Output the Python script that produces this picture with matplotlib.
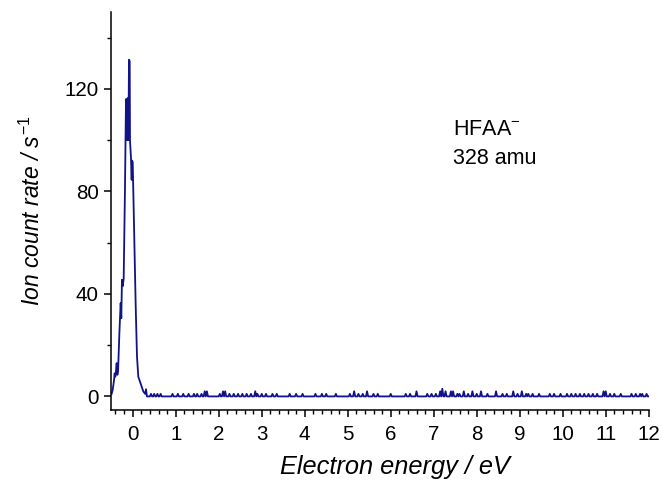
import numpy as np
import matplotlib
matplotlib.use("Agg")
import matplotlib.pyplot as plt
from matplotlib.ticker import MultipleLocator

plt.rcParams["font.family"] = ["Liberation Sans", "DejaVu Sans"]
plt.rcParams["mathtext.fontset"] = "custom"
plt.rcParams["mathtext.rm"] = "Liberation Sans"
plt.rcParams["mathtext.it"] = "Liberation Sans:italic"

# Resonance region (electron energy in eV, ion count rate in 1/s)
peak_energy = [-0.49, -0.466, -0.435, -0.42, -0.405, -0.39, -0.373, -0.357, -0.34,
               -0.31, -0.28, -0.265, -0.25, -0.233, -0.21, -0.18, -0.156, -0.14,
               -0.132, -0.117, -0.10, -0.086, -0.07, -0.063, -0.04, -0.024, -0.016,
               0.0, 0.04, 0.07, 0.10, 0.13, 0.17, 0.21, 0.247, 0.29, 0.31, 0.33]
peak_rate = [1.0, 2.5, 6.2, 9.0, 7.7, 9.7, 13.0, 8.4, 10.0,
             24.7, 36.4, 30.5, 45.5, 43.0, 45.8, 80.6, 116.0, 115.0,
             100.0, 116.4, 100.0, 131.4, 130.8, 100.0, 93.0, 84.5, 92.0,
             91.5, 58.5, 35.0, 15.5, 7.7, 5.8, 3.8, 1.9, 1.0, 2.8, 0.0]

# Background above the resonance: zero counts except for isolated events
bg_start, bg_stop, bg_step = 0.35, 12.0, 0.025
event_energy = [0.42, 0.50, 0.57, 0.65, 0.92, 1.05, 1.17, 1.30, 1.42, 1.50, 1.60,
                1.67, 1.72, 2.02, 2.10, 2.15, 2.25, 2.35, 2.45, 2.55, 2.65, 2.75,
                2.85, 2.90, 3.00, 3.10, 3.25, 3.35, 3.65, 3.80, 3.95, 4.25, 4.40,
                4.50, 4.72, 5.05, 5.15, 5.25, 5.35, 5.45, 5.60, 5.70, 6.00, 6.35,
                6.45, 6.60, 6.85, 6.95, 7.05, 7.15, 7.20, 7.27, 7.40, 7.45, 7.55,
                7.60, 7.70, 7.80, 7.90, 8.00, 8.10, 8.25, 8.45, 8.60, 8.70, 8.85,
                8.95, 9.05, 9.15, 9.20, 9.30, 9.45, 9.70, 9.80, 9.95, 10.10, 10.20,
                10.30, 10.40, 10.50, 10.60, 10.70, 10.80, 10.95, 11.00, 11.10,
                11.20, 11.35, 11.60, 11.70, 11.80, 11.85, 11.95]
event_rate = [1, 1, 1, 1, 1, 1, 1, 1, 1, 1, 1,
              2, 2, 1, 2, 2, 1, 1, 1, 1, 1, 1,
              2, 1, 1, 1, 1, 1, 1, 1, 1, 1, 1,
              1, 1, 1, 2, 1, 1, 2, 1, 1, 1, 1,
              1, 2, 1, 1, 1, 2, 3, 2, 2, 2, 1,
              1, 2, 1, 2, 1, 2, 1, 2, 1, 1, 2,
              1, 2, 1, 1, 1, 1, 1, 1, 1, 1, 1,
              1, 1, 1, 1, 1, 1, 2, 2, 1,
              1, 1, 1, 1, 1, 1, 1]

bg_energy = np.round(np.arange(bg_start, bg_stop + bg_step / 2, bg_step), 3)
bg_rate = np.zeros_like(bg_energy)
for e, r in zip(event_energy, event_rate):
    bg_rate[int(round((e - bg_start) / bg_step))] = r

energy = np.concatenate([peak_energy, bg_energy])
rate = np.concatenate([peak_rate, bg_rate])

fig = plt.figure(figsize=(6.62, 4.8), dpi=100)
ax = fig.add_axes([111.2 / 662, 70 / 480, 537.5 / 662, 398 / 480])

ax.plot(energy, rate, color="#12128a", lw=1.3)

ax.set_xlim(-0.5, 12)
ax.set_ylim(-5.3, 150)
ax.xaxis.set_major_locator(MultipleLocator(1))
ax.xaxis.set_minor_locator(MultipleLocator(0.2))
ax.yaxis.set_major_locator(MultipleLocator(40))
ax.yaxis.set_minor_locator(MultipleLocator(20))

for side in ("top", "right"):
    ax.spines[side].set_visible(False)
for side in ("left", "bottom"):
    ax.spines[side].set_linewidth(1.1)

ax.tick_params(which="major", direction="out", length=5, width=1.1, labelsize=14.8)
ax.tick_params(axis="x", which="major", pad=6)
ax.tick_params(axis="y", which="major", pad=4)
ax.tick_params(which="minor", direction="out", length=3, width=1.0)

ax.set_xlabel("Electron energy / eV", fontsize=18.3, fontstyle="italic", labelpad=8)
ax.xaxis.label.set_x(0.528)
ax.set_ylabel("Ion count rate / $\\mathit{s}^{-1}$", fontsize=16.5, fontstyle="italic", labelpad=14)

ax.text(7.45, 102, "HFAA$^{-}$", fontsize=15.5)
ax.text(7.45, 90.5, "328 amu", fontsize=15.5)

fig.savefig("out.png", dpi=100)
